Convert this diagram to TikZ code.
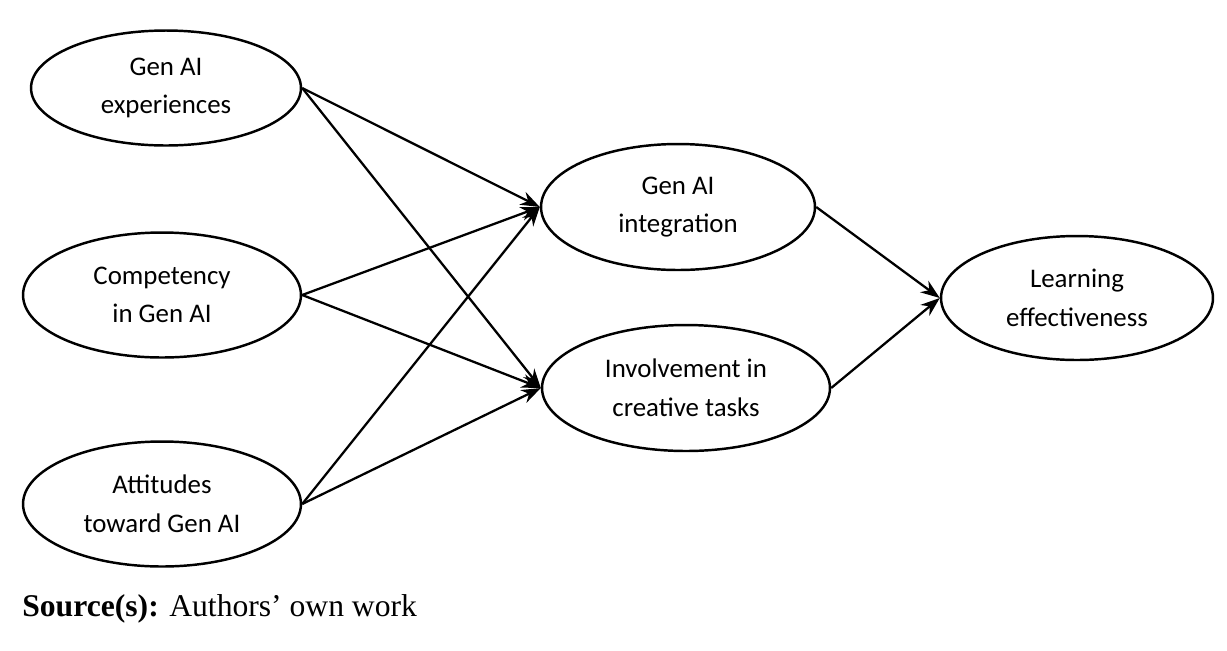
\documentclass[tikz,border=0pt]{standalone}
\usepackage{fontspec}
\setmainfont{Carlito}
\newfontfamily\captionfont{Liberation Serif}
\usetikzlibrary{shapes.geometric,arrows.meta}

\tikzset{
	construct/.style={draw, ellipse, line width=1.4pt, inner sep=0pt, align=center,
		font=\fontsize{15.3}{22}\selectfont},
	path/.style={line width=1.3pt, -{Stealth[length=11pt,width=8pt]}}
}

\begin{document}
\begin{tikzpicture}[x=0.02cm, y=-0.02cm]
		\useasboundingbox (0,0) rectangle (1227,650);

		\node [construct, minimum width=5.4cm, minimum height=2.3cm] (Experiences) at (166,88) {Gen AI\\experiences};
		\node [construct, minimum width=5.56cm, minimum height=2.5cm] (Competency) at (162,295) {Competency\\in Gen AI};
		\node [construct, minimum width=5.56cm, minimum height=2.5cm] (Attitudes) at (162,504) {Attitudes\\toward Gen AI};

		\node [construct, minimum width=5.48cm, minimum height=2.52cm] (Integration) at (678,207) {Gen AI\\integration};
		\node [construct, minimum width=5.76cm, minimum height=2.52cm] (Involvement) at (686,388) {Involvement in\\creative tasks};

		\node [construct, minimum width=5.44cm, minimum height=2.48cm] (Learning) at (1077,298) {Learning\\effectiveness};

		\draw [path] (Experiences.east) -- (Integration.west);
		\draw [path] (Experiences.east) -- (Involvement.west);
		\draw [path] (Competency.east) -- (Integration.west);
		\draw [path] (Competency.east) -- (Involvement.west);
		\draw [path] (Attitudes.east) -- (Integration.west);
		\draw [path] (Attitudes.east) -- (Involvement.west);

		\draw [path] (Integration.east) -- (Learning.west);
		\draw [path] (Involvement.east) -- (Learning.west);

		\node [anchor=base west, inner sep=0pt, font=\captionfont\fontsize{18}{22}\selectfont] (Source) at (22,616) {\textbf{Source(s):} Authors’ own work};
	\end{tikzpicture}
\end{document}
